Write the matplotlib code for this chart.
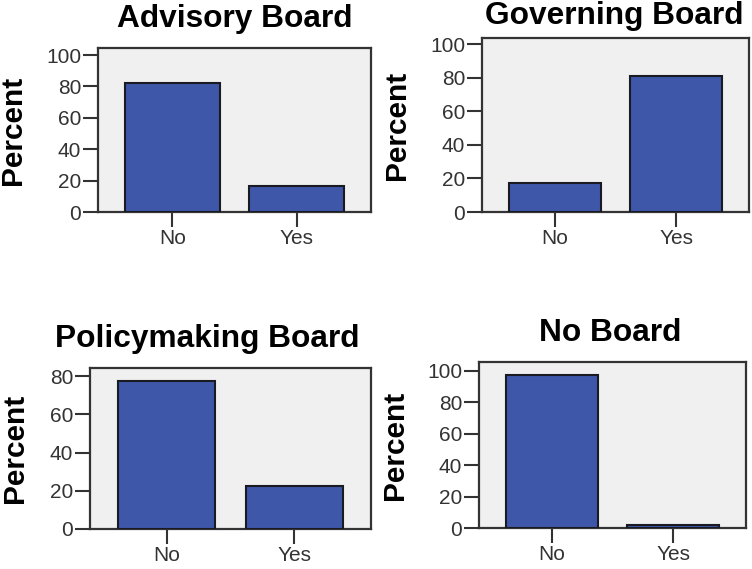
import matplotlib
matplotlib.use("Agg")
import matplotlib.pyplot as plt

categories = ["No", "Yes"]
titles = ["Advisory Board", "Governing Board", "Policymaking Board", "No Board"]
advisory = [82.2, 16.6]
governing = [17.3, 81.0]
policymaking = [77.5, 22.5]
no_board = [97.5, 1.8]
series = [advisory, governing, policymaking, no_board]
yticks_list = [[0, 20, 40, 60, 80, 100], [0, 20, 40, 60, 80, 100],
               [0, 20, 40, 60, 80], [0, 20, 40, 60, 80, 100]]
ylims = [104.5, 103.6, 84.2, 105.7]

W, H = 752, 569
fig = plt.figure(figsize=(W / 100, H / 100), dpi=100)
plt.rcParams['font.family'] = ['Liberation Sans', 'DejaVu Sans']

# axes boxes in pixels: left, right, top, bottom
boxes = [(98, 371, 48, 212), (482, 749, 38, 212), (90, 371, 368, 529), (479, 746, 362, 528)]
title_pos = [(235, 27), (614, 24), (207, 347), (610, 341)]
ylabel_x = [13, 397, 15, 395]

bar_color = "#3E57A9"
edge_color = "#1a1a22"
tick_color = "#333333"

for i in range(4):
    l, r, t, b = boxes[i]
    ax = fig.add_axes([l / W, 1 - b / H, (r - l) / W, (b - t) / H])
    ax.set_facecolor("#F0F0F0")
    ax.bar([0, 1], series[i], width=0.76, color=bar_color, edgecolor=edge_color, linewidth=1.5, zorder=3)
    ax.set_xlim(-0.6, 1.6)
    ax.set_ylim(0, ylims[i])
    ax.set_xticks([0, 1])
    ax.set_xticklabels(categories)
    ax.set_yticks(yticks_list[i])
    ax.tick_params(axis='both', length=11, width=1.5, color=tick_color, labelsize=15,
                   labelcolor="#333333", pad=1)
    for s in ax.spines.values():
        s.set_color(tick_color)
        s.set_linewidth(1.6)
    tx, ty = title_pos[i]
    fig.text(tx / W, 1 - ty / H, titles[i], ha='center', va='baseline',
             fontsize=22.8, fontweight='bold', color='black')
    fig.text(ylabel_x[i] / W, 1 - ((t + b) / 2) / H, "Percent", rotation=90,
             ha='center', va='center', fontsize=21.5, fontweight='bold', color='black')

fig.savefig("out.png", dpi=100)
